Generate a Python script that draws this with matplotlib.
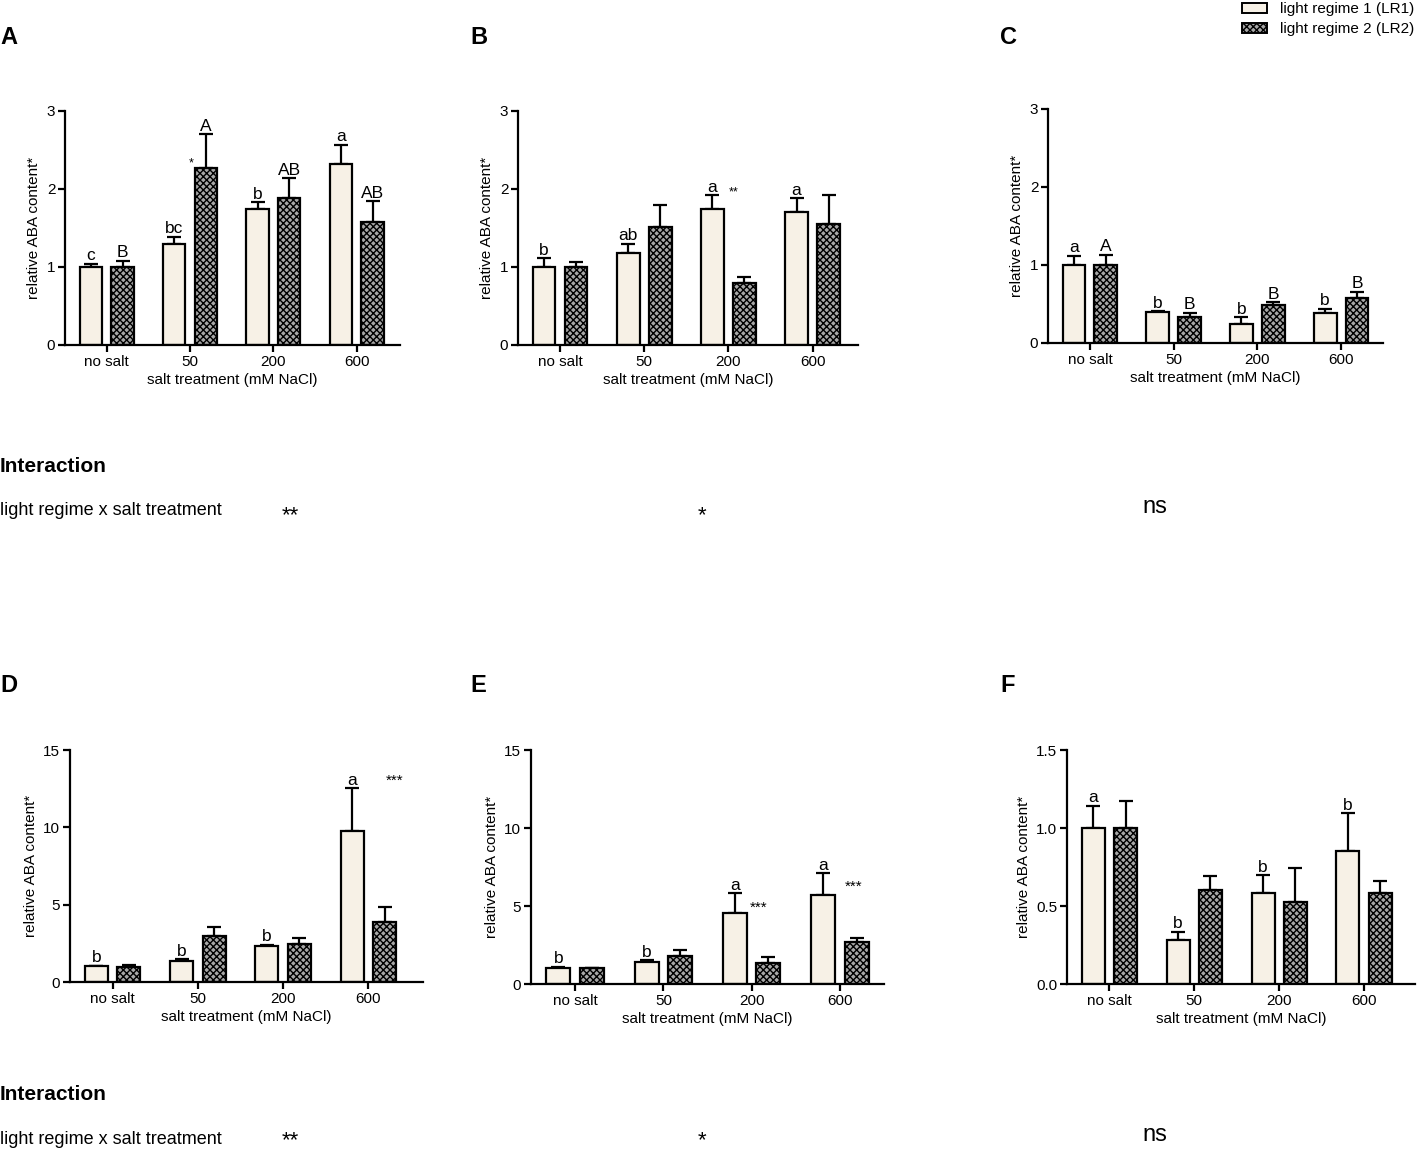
import matplotlib
matplotlib.use("Agg")
import matplotlib.pyplot as plt
from matplotlib.patches import Patch
import numpy as np

plt.rcParams['font.family'] = ['Liberation Sans', 'DejaVu Sans']
plt.rcParams['hatch.linewidth'] = 1.0

categories = ["no salt", "50", "200", "600"]
series_names = ["light regime 1 (LR1)", "light regime 2 (LR2)"]

# Panel A
A_lr1 = [1.00, 1.29, 1.74, 2.32]
A_lr1_err = [0.04, 0.10, 0.09, 0.25]
A_lr2 = [1.00, 2.27, 1.89, 1.58]
A_lr2_err = [0.08, 0.43, 0.25, 0.26]
A_lab1 = ["c", "bc", "b", "a"]
A_lab2 = ["B", "A", "AB", "AB"]
A_stars = [("*", 1.02, 2.33, 9)]

# Panel B
B_lr1 = [1.00, 1.18, 1.75, 1.71]
B_lr1_err = [0.11, 0.12, 0.17, 0.17]
B_lr2 = [1.00, 1.51, 0.80, 1.55]
B_lr2_err = [0.07, 0.28, 0.07, 0.37]
B_lab1 = ["b", "ab", "a", "a"]
B_lab2 = ["", "", "", ""]
B_stars = [("**", 2.06, 1.95, 9)]

# Panel C
C_lr1 = [1.00, 0.40, 0.25, 0.38]
C_lr1_err = [0.12, 0.01, 0.08, 0.06]
C_lr2 = [1.00, 0.33, 0.49, 0.58]
C_lr2_err = [0.13, 0.06, 0.03, 0.08]
C_lab1 = ["a", "b", "b", "b"]
C_lab2 = ["A", "B", "B", "B"]
C_stars = []

# Panel D
D_lr1 = [1.01, 1.38, 2.30, 9.79]
D_lr1_err = [0.04, 0.10, 0.11, 2.73]
D_lr2 = [1.00, 2.95, 2.43, 3.87]
D_lr2_err = [0.10, 0.58, 0.41, 1.01]
D_lab1 = ["b", "b", "b", "a"]
D_lab2 = ["", "", "", ""]
D_stars = [("***", 3.31, 13.0, 11)]

# Panel E
E_lr1 = [1.00, 1.43, 4.53, 5.73]
E_lr1_err = [0.11, 0.11, 1.28, 1.36]
E_lr2 = [1.00, 1.82, 1.37, 2.69]
E_lr2_err = [0.05, 0.34, 0.38, 0.24]
E_lab1 = ["b", "b", "a", "a"]
E_lab2 = ["", "", "", ""]
E_stars = [("***", 2.08, 4.9, 11), ("***", 3.16, 6.2, 11)]

# Panel F
F_lr1 = [1.00, 0.28, 0.585, 0.853]
F_lr1_err = [0.143, 0.055, 0.112, 0.241]
F_lr2 = [1.00, 0.60, 0.528, 0.581]
F_lr2_err = [0.17, 0.09, 0.218, 0.079]
F_lab1 = ["a", "b", "b", "b"]
F_lab2 = ["", "", "", ""]
F_stars = []

yticks_top = [0, 1, 2, 3]
ytick_labels_top = ["0", "1", "2", "3"]
yticks_D = [0, 5, 10, 15]
ytick_labels_D = ["0", "5", "10", "15"]
yticks_F = [0.0, 0.5, 1.0, 1.5]
ytick_labels_F = ["0.0", "0.5", "1.0", "1.5"]

interaction_top = ["**", "*", "ns"]
interaction_bottom = ["**", "*", "ns"]

W, H = 1417, 1150
fig = plt.figure(figsize=(W / 100, H / 100), dpi=100)

LR1_COLOR = "#f7f1e6"
LR2_FACE = "#a8a8a8"


def px_axes(l, r, t, b):
    return fig.add_axes([l / W, 1 - b / H, (r - l) / W, (b - t) / H])


def draw_panel(ax, lr1, e1, lr2, e2, lab1, lab2, stars, yticks, ylabels, xlim_hi):
    x = np.arange(len(categories))
    off, bw = 0.19, 0.27
    ax.bar(x - off, lr1, bw, color=LR1_COLOR, edgecolor="black", linewidth=1.6, zorder=2)
    ax.bar(x + off, lr2, bw, color=LR2_FACE, edgecolor="black", linewidth=1.6,
           hatch="xxxxx", zorder=2)
    ax.errorbar(x - off, lr1, yerr=[np.zeros(4), e1], fmt="none", ecolor="black",
                elinewidth=1.6, capsize=5, capthick=1.6, zorder=1)
    ax.errorbar(x + off, lr2, yerr=[np.zeros(4), e2], fmt="none", ecolor="black",
                elinewidth=1.6, capsize=5, capthick=1.6, zorder=1)
    for i in range(4):
        if lab1[i]:
            ax.annotate(lab1[i], (x[i] - off, lr1[i] + e1[i]), xytext=(0, 0.3),
                        textcoords="offset points", ha="center", va="bottom", fontsize=12.5)
        if lab2[i]:
            ax.annotate(lab2[i], (x[i] + off, lr2[i] + e2[i]), xytext=(0, 0.3),
                        textcoords="offset points", ha="center", va="bottom", fontsize=12.5)
    for s, sx, sy, fs in stars:
        ax.text(sx, sy, s, ha="center", va="center", fontsize=fs)
    ax.set_xlim(-0.5, xlim_hi)
    ax.set_ylim(yticks[0], yticks[-1])
    ax.set_yticks(yticks)
    ax.set_yticklabels(ylabels, fontsize=11)
    ax.set_xticks(x)
    ax.set_xticklabels(categories, fontsize=11)
    ax.tick_params(direction="out", length=5, width=1.6, pad=2)
    for sp in ["top", "right"]:
        ax.spines[sp].set_visible(False)
    for sp in ["left", "bottom"]:
        ax.spines[sp].set_linewidth(1.6)
    ax.set_xlabel("salt treatment (mM NaCl)", fontsize=11, labelpad=3)
    ax.set_ylabel("relative ABA content*", fontsize=11, labelpad=4)
    ax.set_facecolor("none")


axA = px_axes(65, 400, 111, 345)
draw_panel(axA, A_lr1, A_lr1_err, A_lr2, A_lr2_err, A_lab1, A_lab2, A_stars,
           yticks_top, ytick_labels_top, 3.52)
axB = px_axes(518, 858, 111, 345)
draw_panel(axB, B_lr1, B_lr1_err, B_lr2, B_lr2_err, B_lab1, B_lab2, B_stars,
           yticks_top, ytick_labels_top, 3.54)
axC = px_axes(1048, 1383, 109, 343)
draw_panel(axC, C_lr1, C_lr1_err, C_lr2, C_lr2_err, C_lab1, C_lab2, C_stars,
           yticks_top, ytick_labels_top, 3.5)
axD = px_axes(70, 423, 750, 982)
draw_panel(axD, D_lr1, D_lr1_err, D_lr2, D_lr2_err, D_lab1, D_lab2, D_stars,
           yticks_D, ytick_labels_D, 3.64)
axE = px_axes(531, 884, 750, 984)
draw_panel(axE, E_lr1, E_lr1_err, E_lr2, E_lr2_err, E_lab1, E_lab2, E_stars,
           yticks_D, ytick_labels_D, 3.5)
axF = px_axes(1067, 1415, 750, 984)
draw_panel(axF, F_lr1, F_lr1_err, F_lr2, F_lr2_err, F_lab1, F_lab2, F_stars,
           yticks_F, ytick_labels_F, 3.6)

# panel letters
for lab, px, py in [("A", 0, 37), ("B", 470, 37), ("C", 1000, 37),
                    ("D", 0, 685), ("E", 470, 685), ("F", 1000, 685)]:
    fig.text(px / W, 1 - py / H, lab, fontsize=17, fontweight="bold",
             ha="left", va="center")

# legend
handles = [Patch(facecolor=LR1_COLOR, edgecolor="black", linewidth=1.4),
           Patch(facecolor=LR2_FACE, edgecolor="black", linewidth=1.4, hatch="xxxxx")]
fig.legend(handles, series_names, loc="upper right", bbox_to_anchor=(1.0, 1.0),
           frameon=False, fontsize=11, handlelength=1.6, handleheight=0.6,
           handletextpad=0.9, labelspacing=0.4, borderaxespad=0.05,
           borderpad=0.1)

# interaction text
for y0, vals in [(0, interaction_top), (628, interaction_bottom)]:
    fig.text(0 / W, 1 - (467 + y0) / H, "Interaction", fontsize=15, fontweight="bold",
             ha="left", va="center")
    fig.text(0 / W, 1 - (511 + y0) / H, "light regime x salt treatment", fontsize=13,
             ha="left", va="center")
    sy = 516 if y0 == 0 else 513
    fig.text(290 / W, 1 - (sy + y0) / H, vals[0], fontsize=16, ha="center", va="center")
    fig.text(702 / W, 1 - (sy + y0) / H, vals[1], fontsize=16, ha="center", va="center")
    fig.text(1155 / W, 1 - (507 + y0) / H, vals[2], fontsize=17,
             ha="center", va="center")

fig.savefig("out.png", dpi=100, facecolor="white")
